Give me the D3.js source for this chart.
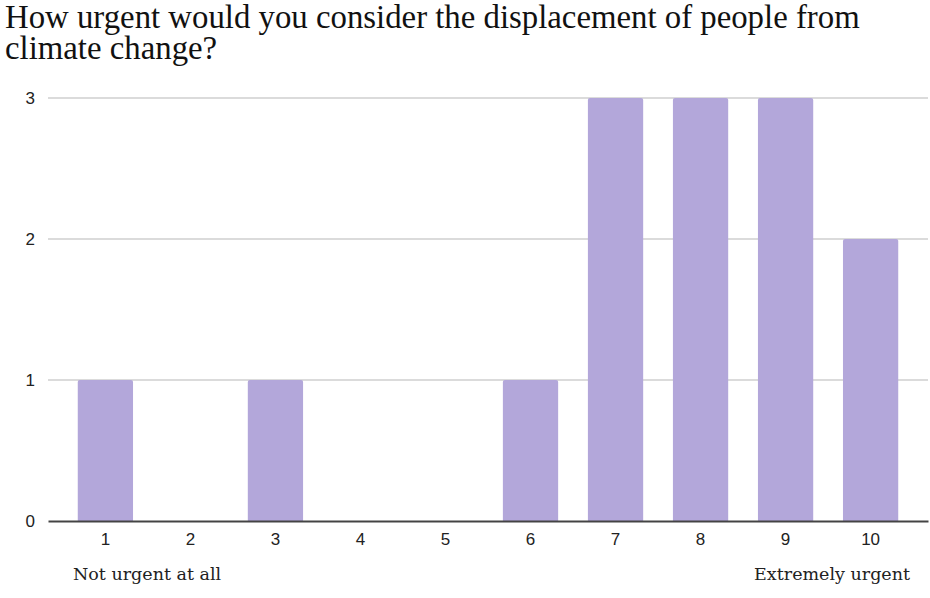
<!DOCTYPE html>
<html>
<head>
<meta charset="utf-8">
<script src="https://cdn.jsdelivr.net/npm/d3@7"></script>
<style>
  html, body { margin: 0; padding: 0; background: #fff; }
  svg { display: block; }
  .tick text { font-family: 'Liberation Sans', Arial, sans-serif; font-size: 17px; fill: #222; }
</style>
</head>
<body>
<svg id="chart" width="930" height="598"></svg>
<script>
// Survey responses: urgency rating (1–10) and number of respondents
const ratings = ["1", "2", "3", "4", "5", "6", "7", "8", "9", "10"];
const counts = [1, 0, 1, 0, 0, 1, 3, 3, 3, 2];
const yTicks = [0, 1, 2, 3];
const titleLines = [
  "How urgent would you consider the displacement of people from",
  "climate change?"
];
const lowLabel = "Not urgent at all";
const highLabel = "Extremely urgent";

const svg = d3.select("#chart");
const plotLeft = 48, plotRight = 928, plotTop = 98, plotBottom = 521;

const x = d3.scaleBand().domain(ratings).range([plotLeft, plotRight])
  .paddingInner(0.35).paddingOuter(0.35);
const y = d3.scaleLinear().domain([0, 3]).range([plotBottom, plotTop]);

// Title
svg.append("text")
  .attr("x", 5).attr("y", 28)
  .style("font-family", "'Liberation Serif', 'Times New Roman', serif")
  .style("font-size", "32.8px").attr("fill", "#111")
  .selectAll("tspan").data(titleLines).join("tspan")
  .attr("x", 5).attr("dy", (d, i) => i === 0 ? 0 : 31)
  .text(d => d);

// Horizontal gridlines
svg.append("g").selectAll("line").data(yTicks.filter(d => d > 0)).join("line")
  .attr("x1", plotLeft).attr("x2", plotRight)
  .attr("y1", d => y(d)).attr("y2", d => y(d))
  .attr("stroke", "#cfcfcf").attr("stroke-width", 1.5);

// Y axis labels
const yAxis = d3.axisLeft(y).tickValues(yTicks).tickFormat(d3.format("d")).tickSize(0).tickPadding(13);
const gy = svg.append("g").attr("transform", `translate(${plotLeft},0)`).call(yAxis);
gy.select(".domain").remove();

// Bars with slightly rounded tops
svg.append("g").selectAll("path").data(ratings.map((r, i) => ({ r, v: counts[i] })).filter(d => d.v > 0))
  .join("path")
  .attr("fill", "#b3a7da")
  .attr("d", d => {
    const x0 = x(d.r), w = x.bandwidth(), y0 = y(d.v), y1 = y(0), r = 2;
    return `M${x0},${y1}V${y0 + r}Q${x0},${y0} ${x0 + r},${y0}H${x0 + w - r}Q${x0 + w},${y0} ${x0 + w},${y0 + r}V${y1}Z`;
  });

// X axis
const xAxis = d3.axisBottom(x).tickSize(0).tickPadding(12);
const gx = svg.append("g").attr("transform", `translate(0,${plotBottom})`).call(xAxis);
gx.select(".domain").attr("stroke", "#444").attr("stroke-width", 2);

// Scale end labels
const endFont = "'DejaVu Serif', 'Liberation Serif', serif";
svg.append("text").attr("x", 73).attr("y", 580)
  .style("font-family", endFont).style("font-size", "17.5px").attr("fill", "#222")
  .text(lowLabel);
svg.append("text").attr("x", 910).attr("y", 580).attr("text-anchor", "end")
  .style("font-family", endFont).style("font-size", "17.5px").attr("fill", "#222")
  .text(highLabel);
</script>
</body>
</html>
